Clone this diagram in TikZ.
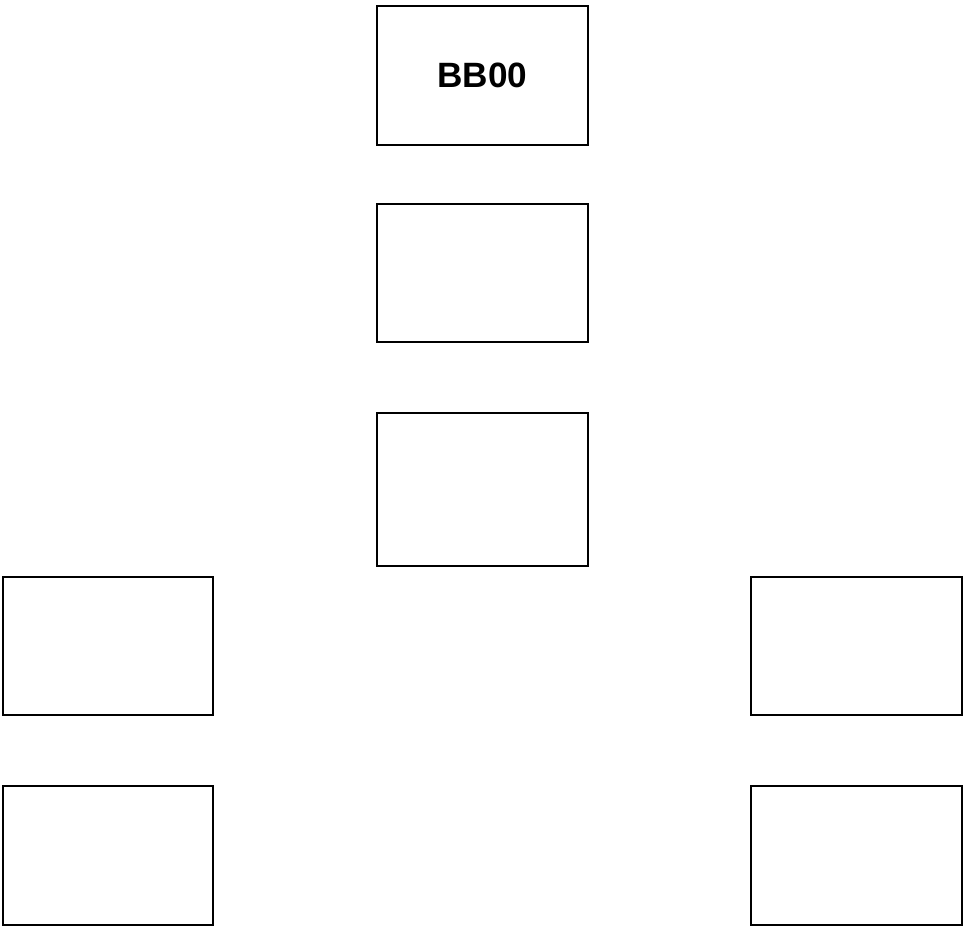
\documentclass[tikz,border=0pt]{standalone}
\usepackage{fontspec}
\setmainfont{Liberation Sans}
\usepackage{tikz}
\usetikzlibrary{positioning}
\tikzset{
    blockbox/.style={
        rectangle,
        draw,
        line width=1.4pt,
        minimum width=5.25cm,
        minimum height=3.47cm,
        inner sep=0pt,
        text centered,
        font=\fontsize{25}{30}\selectfont\bfseries
    },
    tallbox/.style={
        blockbox,
        minimum height=3.8cm
    }
}

\begin{document}
\begin{tikzpicture}[x=0.025cm,y=-0.025cm]
        \useasboundingbox (0,0) rectangle (963,927);
        % Middle column
        \node[blockbox] (bb00) at (482.5,75.5) {BB00};
        \node[blockbox] (mid1) at (482.5,273) {};
        \node[tallbox] (mid2) at (482.5,489.5) {};
        
        % Left column
        \node[blockbox] (left1) at (108,646) {};
        \node[blockbox] (left2) at (108,855.5) {};
        
        % Right column
        \node[blockbox] (right1) at (856.5,646) {};
        \node[blockbox] (right2) at (856.5,855.5) {};
    \end{tikzpicture}
\end{document}
